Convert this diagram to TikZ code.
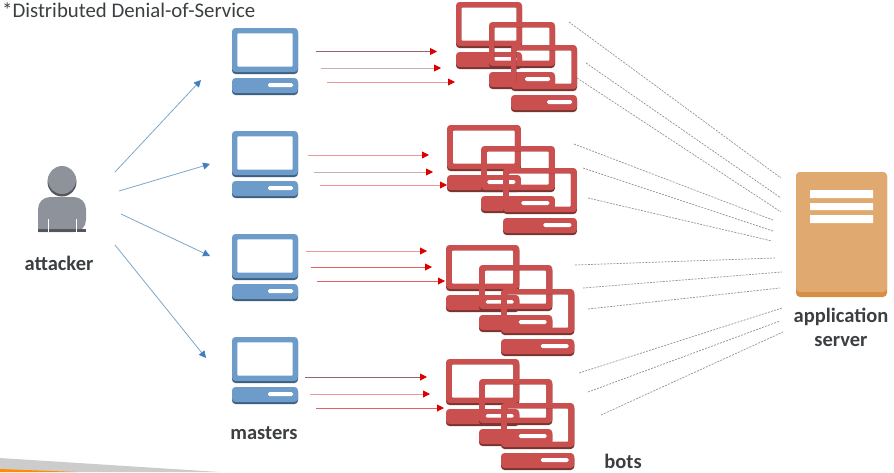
\documentclass[tikz,border=0pt]{standalone}
\usepackage{fontspec}
\setmainfont{Carlito}
\usepackage{tikz}
\usetikzlibrary{arrows.meta}
\definecolor{masterblue}{HTML}{6D9CCB}
\definecolor{masterdark}{HTML}{3F5F7F}
\definecolor{arrowblue}{HTML}{3F7FBF}
\definecolor{linkblue}{HTML}{7FA6C6}
\definecolor{botred}{HTML}{C9504E}
\definecolor{botdark}{HTML}{7A3432}
\definecolor{serverorange}{HTML}{DFA96F}
\definecolor{serverdark}{HTML}{D68F45}
\definecolor{attackergray}{HTML}{8D929B}
\definecolor{attackerdark}{HTML}{54575C}
\definecolor{labelgray}{HTML}{3C3F41}
\definecolor{rdark}{HTML}{95646A}
\definecolor{rgray}{HTML}{C8AEAE}
\definecolor{rpale}{HTML}{F09898}
\definecolor{rmid}{HTML}{E86060}
\tikzset{
  computer/.pic={
    \fill[masterdark,rounded corners=3.5] (0,2) rectangle (66,46);
    \fill[masterdark,rounded corners=3.5] (0,52) rectangle (66,67);
    \fill[masterblue,rounded corners=3.5] (0,0) rectangle (66,44);
    \fill[white,rounded corners=1] (5.3,5.3) rectangle (60.7,38.7);
    \fill[masterblue,rounded corners=3.5] (0,50) rectangle (66,65);
    \fill[white,rounded corners=1.5] (36,55) rectangle (61,59);
  },
  redpc/.pic={
    \fill[botdark,rounded corners=3.5,even odd rule] (0,2) rectangle (66,46)
      [rounded corners=1] (5.3,5.3) rectangle (60.7,41);
    \fill[botred,rounded corners=3.5,even odd rule] (0,0) rectangle (66,44)
      [rounded corners=1] (5.3,5.3) rectangle (60.7,38.7);
    \fill[botdark,rounded corners=3.5] (0,52) rectangle (66,67);
    \fill[botred,rounded corners=3.5] (0,50) rectangle (66,65);
    \fill[white,rounded corners=1.5] (36,55) rectangle (61,59);
  },
  lbl/.style={font=\bfseries\fontsize{20.5}{24}\selectfont,text=labelgray,inner sep=0pt,align=center},
  bluearrow/.style={draw=linkblue,line width=.8pt,-{Triangle[length=7pt,width=7pt,color=arrowblue]}},
  redarrow/.style={line width=.9pt,-{Triangle[length=7pt,width=7pt,color=red!85!black]}},
  botline/.style={draw=gray!85,line width=.7pt,dash pattern=on 2pt off 1.2pt},
}
\begin{document}
\begin{tikzpicture}[x=1pt,y=-1pt]
  \useasboundingbox (0,0) rectangle (894,472);
  % footer wedge
  \fill[black!20] (0,458) -- (220,472) -- (0,472) -- cycle;
  \fill[orange!90!yellow] (0,469) -- (77,472) -- (0,472) -- cycle;
  \node[anchor=base west,inner sep=0pt,text=labelgray,font=\fontsize{20.8}{24}\selectfont] (title) at (2,17) {*Distributed Denial-of-Service};
  % attacker
  \fill[attackerdark] (62,182) circle (14.5);
  \fill[attackergray] (62,180) circle (14);
  \fill[attackergray,rounded corners=12] (38,232) -- (38,197) -- (86,197) -- (86,232) [sharp corners] -- cycle;
  \fill[attackerdark] (38,229) rectangle (86,232);
  \draw[white,line width=1pt] (48.5,219) -- (48.5,232) (76,219) -- (76,232);
  \node[lbl] (attacker) at (59,263) {attacker};
  % masters
  \foreach \y [count=\i] in {28,131,234,337} {
    \pic (master\i) at (232,\y) {computer};
  }
  \node[lbl] (masters) at (264,433) {masters};
  % bots
  \foreach \sx/\xa/\ya/\xb/\yb/\xc/\yc [count=\i] in {1/456/2/489/22/511/45, 1.12/447/125/481/146/503/168, 1.11/446/245/479/265/501/289, 1.11/446/359/479/379/501/403} {
    \pic[xscale=\sx] (bot\i a) at (\xa,\ya) {redpc};
    \pic[xscale=\sx] (bot\i b) at (\xb,\yb) {redpc};
    \pic[xscale=\sx] (bot\i c) at (\xc,\yc) {redpc};
  }
  \node[lbl] (bots) at (623,461.5) {bots};
  % server
  \fill[serverdark,rounded corners=4] (796,172) rectangle (887,297);
  \fill[serverorange,rounded corners=4] (796,172) rectangle (887,292);
  \fill[white] (810,190) rectangle (873,198) (810,203) rectangle (873,210) (810,215) rectangle (873,223);
  \node[lbl] (server) at (841,327) {application\\server};
  % attacker to masters
  \foreach \n/\xa/\ya/\xb/\yb in {a/115/172/201/80, b/119/191/210/164, c/121/214/210/256, d/115/245/206/358} {
    \coordinate (from\n) at (\xa,\ya);
    \coordinate (to\n) at (\xb,\yb);
    \draw[bluearrow] (from\n) -- (to\n);
  }
  % masters to bots
  \foreach \n/\c/\xa/\ya/\xb/\yb in {
    a/rdark/316/51.5/437/51.5, b/rgray/321/68/441/68, c/rpale/327/82/455/82,
    d/rpale/308/155/429/155, e/rgray/314/172/433/172, f/rpale/320/185/447/185,
    g/rpale/306/251/427/251, h/rmid/311/267/432/267, i/rmid/317/281/445/281,
    j/rdark/305/377/427/377, k/rpale/310/394/430/394, l/rmid/316/408/444/408} {
    \coordinate (ms\n) at (\xa,\ya);
    \coordinate (mt\n) at (\xb,\yb);
    \draw[redarrow,draw=\c] (ms\n) -- (mt\n);
  }
  % bots to server
  \foreach \n/\xa/\ya/\xb/\yb in {
    a/569/22/781/178, b/586/63/781/198, c/577/78/781/212,
    d/574/144/773/220, e/583/168/773/231, f/588/198/772/241,
    g/575/265/775/258, h/583/288/782/272, i/588/309/780/288,
    j/579/373/782/308, k/588/392/780/321, l/601/415/783/332} {
    \coordinate (bs\n) at (\xa,\ya);
    \coordinate (bt\n) at (\xb,\yb);
    \draw[botline] (bs\n) -- (bt\n);
  }
\end{tikzpicture}
\end{document}
